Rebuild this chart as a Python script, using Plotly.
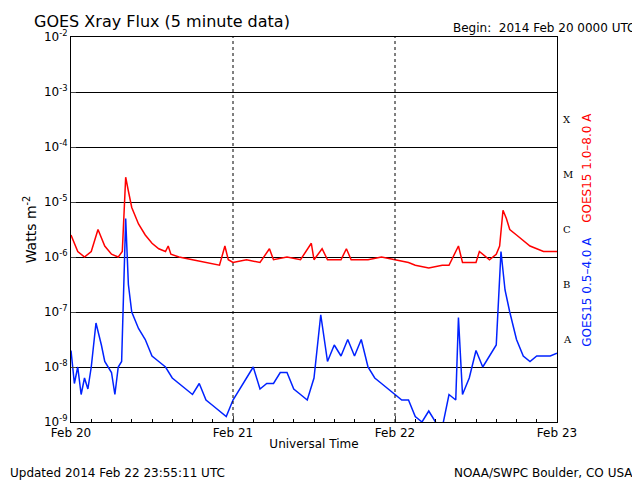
import plotly.graph_objects as go

# hours since 2014 Feb 20 00:00 UTC
long_t = [0,1,2,3,4,5,6,7,7.6,8.1,8.5,9,10,11,12,13,14,14.4,14.8,16,18,20,22,22.8,23.3,24,26,28,29.4,30,32,34,35.6,36,37.2,38,40,40.8,41.5,44,46,48,50,51,53,55,56,57.4,58,60,60.5,62,63,63.5,64,64.5,65,66,68,70,72]
long_v = [-5.6,-5.9,-6.0,-5.9,-5.5,-5.8,-5.95,-6.0,-5.9,-4.55,-4.8,-5.1,-5.4,-5.6,-5.75,-5.85,-5.9,-5.8,-5.95,-6.0,-6.05,-6.1,-6.15,-5.8,-6.05,-6.1,-6.05,-6.1,-5.85,-6.05,-6.0,-6.05,-5.75,-6.05,-5.85,-6.05,-6.05,-5.85,-6.05,-6.05,-6.0,-6.05,-6.1,-6.15,-6.2,-6.15,-6.15,-5.8,-6.1,-6.1,-5.9,-6.05,-5.95,-5.8,-5.15,-5.3,-5.5,-5.6,-5.8,-5.9,-5.9]
short_t = [0,0.5,1,1.5,2,2.5,3,3.7,4.5,5,6,6.5,7,7.5,8.1,8.5,9,10,11,12,13,14,15,16,17,18,19,20,21,22,23,24,25,26,27,28,29,30,31,32,33,34,35,36,37,38,39,40,41,42,43,44,45,46,47,48,49,50,51,52,53,54,55,56,57,57.4,58,59,60,61,62,63,63.7,64.3,65,66,67,68,69,70,71,72]
short_v = [-7.7,-8.3,-8.0,-8.5,-8.2,-8.4,-8.0,-7.2,-7.6,-7.9,-8.1,-8.5,-8.0,-7.9,-5.3,-6.5,-7.0,-7.3,-7.5,-7.8,-7.9,-8.0,-8.2,-8.3,-8.4,-8.5,-8.3,-8.6,-8.7,-8.8,-8.9,-8.6,-8.4,-8.2,-8.0,-8.4,-8.3,-8.3,-8.1,-8.1,-8.4,-8.5,-8.6,-8.2,-7.05,-7.9,-7.6,-7.8,-7.5,-7.8,-7.5,-8.0,-8.2,-8.3,-8.4,-8.5,-8.6,-8.6,-8.9,-9.0,-8.8,-9.0,-9.1,-8.5,-8.6,-7.1,-8.5,-8.2,-7.7,-8.0,-7.8,-7.6,-5.9,-6.6,-7.0,-7.5,-7.8,-7.9,-7.8,-7.8,-7.8,-7.75]
day_ticks = [0,24,48,72]
day_labels = ["Feb 20","Feb 21","Feb 22","Feb 23"]
y_ticks = [-9,-8,-7,-6,-5,-4,-3,-2]
y_labels = [f"10<sup>{v}</sup>" for v in y_ticks]
classes = ["A","B","C","M","X"]
class_pos = [-7.5,-6.5,-5.5,-4.5,-3.5]

fig = go.Figure()
fig.add_trace(go.Scatter(x=long_t, y=long_v, mode="lines", line=dict(color="#ff0000", width=1.5)))
fig.add_trace(go.Scatter(x=short_t, y=short_v, mode="lines", line=dict(color="#0022ff", width=1.5)))
for d in day_ticks[1:-1]:
    fig.add_shape(type="line", x0=d, x1=d, y0=-9, y1=-2, line=dict(color="black", width=1, dash="dot"))
for c, p in zip(classes, class_pos):
    fig.add_annotation(x=72, y=p, text=c, showarrow=False, xanchor="left", xshift=4,
                       font=dict(size=10, color="black", family="DejaVu Serif"))
fnt = dict(family="DejaVu Sans", color="black")
fig.add_annotation(xref="paper", yref="paper", x=-0.08, y=1.01, text="GOES Xray Flux (5 minute data)",
                   showarrow=False, xanchor="left", yanchor="bottom", font=dict(size=16, **fnt))
fig.add_annotation(xref="paper", yref="paper", x=1.165, y=1.0, text="Begin:  2014 Feb 20 0000 UTC",
                   showarrow=False, xanchor="right", yanchor="bottom", font=dict(size=12, **fnt))
fig.add_annotation(xref="paper", yref="paper", x=1.08, y=0.66, text="GOES15 1.0–8.0 A", textangle=-90,
                   showarrow=False, font=dict(size=12, color="#ff0000", family="DejaVu Sans"))
fig.add_annotation(xref="paper", yref="paper", x=1.08, y=0.19, text="GOES15 0.5–4.0 A", textangle=-90,
                   showarrow=False, font=dict(size=12, color="#0022ff", family="DejaVu Sans"))
fig.add_annotation(xref="paper", yref="paper", x=-0.13, y=-0.11, text="Updated 2014 Feb 22 23:55:11 UTC",
                   showarrow=False, xanchor="left", yanchor="top", font=dict(size=12, **fnt))
fig.add_annotation(xref="paper", yref="paper", x=1.16, y=-0.11, text="NOAA/SWPC Boulder, CO USA",
                   showarrow=False, xanchor="right", yanchor="top", font=dict(size=12, **fnt))
fig.update_layout(width=640, height=480, paper_bgcolor="white", plot_bgcolor="white", showlegend=False,
                  margin=dict(l=63, r=91, t=29, b=66, autoexpand=False),
                  font=dict(family="DejaVu Sans", size=12, color="black"))
fig.update_xaxes(range=[0,72], tickvals=day_ticks, ticktext=day_labels, showgrid=False, zeroline=False,
                 automargin=False, showline=True, mirror=True, linecolor="black", ticks="inside", ticklen=6,
                 minor=dict(dtick=3, ticks="inside", ticklen=3, tickcolor="black"),
                 title=dict(text="Universal Time", standoff=0, font=dict(size=12)))
fig.update_yaxes(range=[-9,-2], tickvals=y_ticks, ticktext=y_labels, showgrid=True, gridcolor="black",
                 automargin=False, zeroline=False, showline=True, mirror=True, linecolor="black", ticks="inside",
                 title=dict(text="Watts m<sup>-2</sup>", standoff=4, font=dict(size=14)))
fig.write_html("out.html")
